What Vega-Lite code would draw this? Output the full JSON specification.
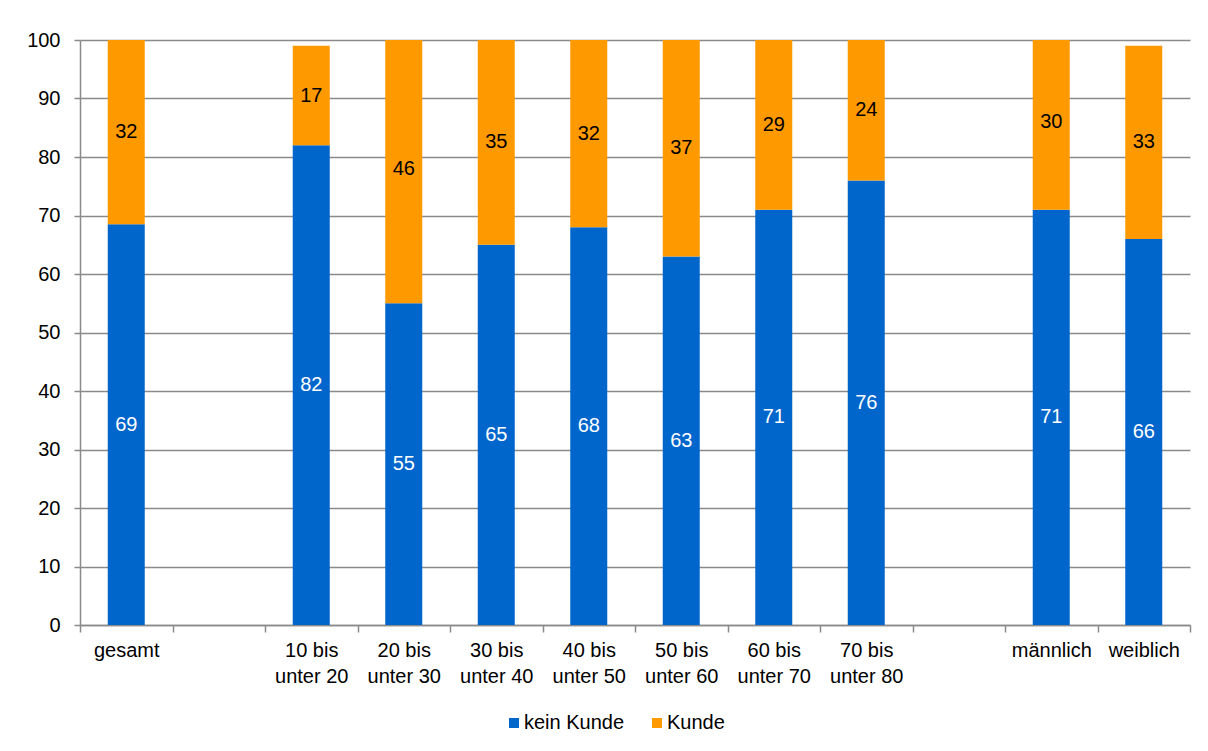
{
  "$schema": "https://vega.github.io/schema/vega-lite/v6.json",
  "autosize": "none",
  "padding": {"left": 80, "top": 40, "right": 18, "bottom": 126},
  "width": 1110,
  "height": 585,
  "background": "white",
  "config": {
    "font": "Liberation Sans",
    "view": {"stroke": null},
    "axis": {"labelFont": "Liberation Sans", "labelFontSize": 20, "labelColor": "#000000", "domainColor": "#8a8a8a", "tickColor": "#8a8a8a", "domainWidth": 1.5, "tickWidth": 1.5, "gridColor": "#8a8a8a", "gridWidth": 1.5, "title": null}
  },
  "data": {
    "values": [
      {"category": "gesamt", "series": "kein Kunde", "o": 1, "value": 68.5},
      {"category": "gesamt", "series": "Kunde", "o": 2, "value": 31.5},
      {"category": "10 bis unter 20", "series": "kein Kunde", "o": 1, "value": 82},
      {"category": "10 bis unter 20", "series": "Kunde", "o": 2, "value": 17},
      {"category": "20 bis unter 30", "series": "kein Kunde", "o": 1, "value": 55},
      {"category": "20 bis unter 30", "series": "Kunde", "o": 2, "value": 46},
      {"category": "30 bis unter 40", "series": "kein Kunde", "o": 1, "value": 65},
      {"category": "30 bis unter 40", "series": "Kunde", "o": 2, "value": 35},
      {"category": "40 bis unter 50", "series": "kein Kunde", "o": 1, "value": 68},
      {"category": "40 bis unter 50", "series": "Kunde", "o": 2, "value": 32},
      {"category": "50 bis unter 60", "series": "kein Kunde", "o": 1, "value": 63},
      {"category": "50 bis unter 60", "series": "Kunde", "o": 2, "value": 37},
      {"category": "60 bis unter 70", "series": "kein Kunde", "o": 1, "value": 71},
      {"category": "60 bis unter 70", "series": "Kunde", "o": 2, "value": 29},
      {"category": "70 bis unter 80", "series": "kein Kunde", "o": 1, "value": 76},
      {"category": "70 bis unter 80", "series": "Kunde", "o": 2, "value": 24},
      {"category": "männlich", "series": "kein Kunde", "o": 1, "value": 71},
      {"category": "männlich", "series": "Kunde", "o": 2, "value": 30},
      {"category": "weiblich", "series": "kein Kunde", "o": 1, "value": 66},
      {"category": "weiblich", "series": "Kunde", "o": 2, "value": 33}
    ]
  },
  "encoding": {
    "x": {
      "field": "category",
      "type": "nominal",
      "sort": null,
      "scale": {
        "domain": ["gesamt", " ", "10 bis unter 20", "20 bis unter 30", "30 bis unter 40", "40 bis unter 50", "50 bis unter 60", "60 bis unter 70", "70 bis unter 80", "  ", "männlich", "weiblich"],
        "paddingInner": 0,
        "paddingOuter": 0
      },
      "axis": {
        "labelAngle": 0,
        "tickBand": "extent",
        "tickSize": 7,
        "labelPadding": 8,
        "labelBaseline": "top",
        "labelLineHeight": 26,
        "labelExpr": "split(replace(datum.label, ' unter', '|unter'), '|')"
      }
    },
    "y": {
      "field": "value",
      "type": "quantitative",
      "stack": "zero",
      "scale": {"domain": [0, 100], "nice": false},
      "axis": {"values": [0, 10, 20, 30, 40, 50, 60, 70, 80, 90, 100], "tickSize": 6, "labelPadding": 14, "grid": true}
    },
    "order": {"field": "o", "type": "quantitative"}
  },
  "layer": [
    {
      "mark": {"type": "bar", "width": {"band": 0.4}, "clip": true},
      "encoding": {
        "color": {
          "field": "series",
          "type": "nominal",
          "scale": {"domain": ["kein Kunde", "Kunde"], "range": ["#0066CC", "#FF9900"]},
          "legend": {
            "title": null,
            "orient": "none",
            "legendX": 424,
            "legendY": 673,
            "direction": "horizontal",
            "symbolType": "square",
            "symbolSize": 100,
            "symbolStrokeWidth": 0,
            "labelFontSize": 20,
            "labelFont": "Liberation Sans",
            "labelColor": "#000000",
            "labelOffset": 0,
            "columnPadding": 22,
            "padding": 0
          }
        }
      }
    },
    {
      "mark": {"type": "text", "fontSize": 20, "baseline": "middle", "align": "center"},
      "encoding": {
        "y": {"field": "value", "type": "quantitative", "stack": "zero", "bandPosition": 0.5},
        "text": {"field": "value", "type": "quantitative", "format": ".0f"},
        "color": {"condition": {"test": "datum.series == 'kein Kunde'", "value": "#ffffff"}, "value": "#000000"}
      }
    }
  ]
}
